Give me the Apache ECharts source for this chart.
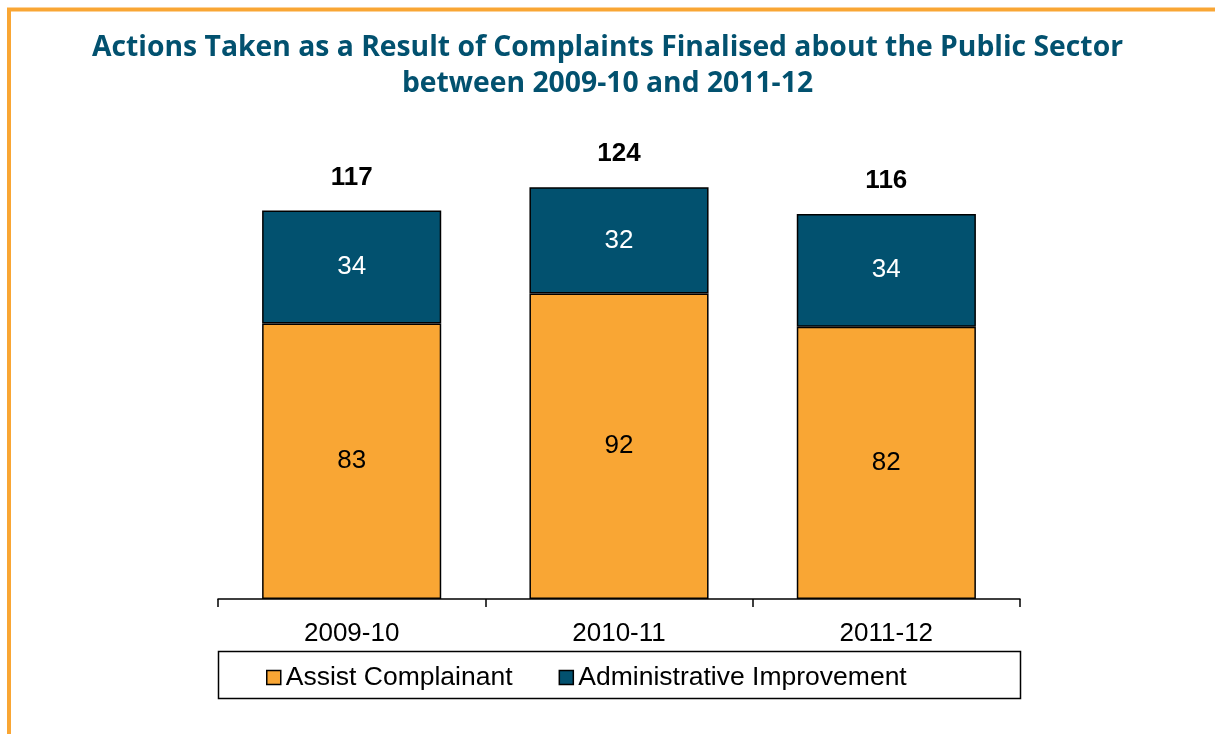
<!DOCTYPE html>
<html>
<head>
<meta charset="utf-8">
<script src="https://cdn.jsdelivr.net/npm/echarts@6/dist/echarts.min.js"></script>
<style>
  html, body { margin: 0; padding: 0; background: #fff; }
  #chart { width: 1215px; height: 734px; }
</style>
</head>
<body>
<div id="chart"></div>
<script>
var years = ['2009-10', '2010-11', '2011-12']
var assistComplainant = [83, 92, 82]
var adminImprovement = [34, 32, 34]
var totals = [117, 124, 116]

var orange = '#F9A634'
var navy = '#02516F'

var chart = echarts.init(document.getElementById('chart'))
chart.setOption({
  animation: false,
  title: {
    text: 'Actions Taken as a Result of Complaints Finalised about the Public Sector\nbetween 2009-10 and 2011-12',
    left: 'center',
    top: 25,
    textStyle: {
      color: navy,
      fontFamily: 'Open Sans',
      fontWeight: 'bold',
      fontSize: 28.3,
      lineHeight: 36,
      align: 'center'
    }
  },
  graphic: [
    // orange frame (only top and left edges are visible)
    {
      type: 'rect',
      shape: { x: 9, y: 9.5, width: 1300, height: 800 },
      style: { fill: 'none', stroke: orange, lineWidth: 4 },
      silent: true
    },
    // legend box
    {
      type: 'rect',
      shape: { x: 218.5, y: 651.5, width: 802, height: 47 },
      style: { fill: 'none', stroke: '#000', lineWidth: 1.5 },
      silent: true
    }
  ],
  legend: {
    data: ['Assist Complainant', 'Administrative Improvement'],
    left: 261,
    top: 659,
    icon: 'rect',
    itemWidth: 14,
    itemHeight: 14,
    itemGap: 46,
    itemStyle: { borderColor: '#000', borderWidth: 1.5 },
    textStyle: { fontFamily: 'Liberation Sans', fontSize: 26.5, color: '#000' }
  },
  grid: {
    left: 218,
    right: 195,
    top: 101,
    bottom: 135
  },
  xAxis: {
    type: 'category',
    data: years,
    axisLine: { lineStyle: { color: '#000', width: 1.5 } },
    axisTick: { show: true, length: 8, lineStyle: { color: '#000', width: 1.5 } },
    axisLabel: { margin: 22, color: '#000', fontFamily: 'Liberation Sans', fontSize: 26 }
  },
  yAxis: {
    type: 'value',
    show: false,
    min: 0,
    max: 150
  },
  series: [
    {
      name: 'Assist Complainant',
      type: 'bar',
      stack: 'total',
      barWidth: '67%',
      data: assistComplainant,
      itemStyle: { color: orange, borderColor: '#000', borderWidth: 1.5 },
      label: {
        show: true,
        position: 'inside',
        color: '#000',
        fontFamily: 'Liberation Sans',
        fontSize: 26
      }
    },
    {
      name: 'Administrative Improvement',
      type: 'bar',
      stack: 'total',
      data: adminImprovement,
      itemStyle: { color: navy, borderColor: '#000', borderWidth: 1.5 },
      label: {
        show: true,
        position: 'inside',
        color: '#fff',
        fontFamily: 'Liberation Sans',
        fontSize: 26
      }
    },
    {
      // transparent overlay bar carrying the bold totals above each stack
      name: 'Total',
      type: 'bar',
      barWidth: '67%',
      barGap: '-100%',
      data: totals,
      silent: true,
      itemStyle: { color: 'rgba(0,0,0,0)', borderWidth: 0 },
      label: {
        show: true,
        position: 'top',
        distance: 20,
        color: '#000',
        fontFamily: 'Liberation Sans',
        fontWeight: 'bold',
        fontSize: 26
      }
    }
  ]
})
</script>
</body>
</html>
